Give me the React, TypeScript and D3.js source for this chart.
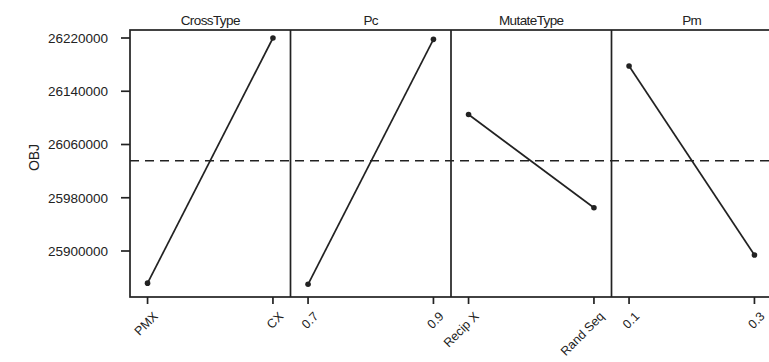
import React from "react";
import * as d3 from "d3";

const factors = ["CrossType", "Pc", "MutateType", "Pm"];
const levels: string[][] = [
  ["PMX", "CX"],
  ["0.7", "0.9"],
  ["Recip X", "Rand Seq"],
  ["0.1", "0.3"],
];
const means: number[][] = [
  [25851700, 26220000],
  [25850000, 26218000],
  [26105000, 25965000],
  [26178000, 25894000],
];
const yTicks = [25900000, 25980000, 26060000, 26140000, 26220000];
const grandMean = 26035500;

const W = 769;
const H = 362;
const left = 130;
const top = 30;
const bottom = 297;
const right = 772;

export default function App() {
  const y = d3.scaleLinear().domain([25900000, 26220000]).range([251, 38]);
  const panel = d3.scaleBand<string>().domain(factors).range([left, right]).padding(0);
  const bw = panel.bandwidth();
  const font = "'Liberation Sans', Arial, sans-serif";

  return (
    <svg width={W} height={H} style={{ position: "absolute", left: 0, top: 0, background: "#fff" }}>
      {/* frame */}
      <rect x={left} y={top} width={right - left} height={bottom - top} fill="none" stroke="#222" strokeWidth={1.7} />
      {factors.slice(1).map((f) => (
        <line key={f} x1={panel(f)} x2={panel(f)} y1={top} y2={bottom} stroke="#222" strokeWidth={1.7} />
      ))}
      {/* y axis */}
      {yTicks.map((t) => (
        <g key={t}>
          <line x1={left - 9} x2={left} y1={y(t)} y2={y(t)} stroke="#222" strokeWidth={1.7} />
          <text x={left - 22} y={y(t)} dy="0.36em" textAnchor="end" fontFamily={font} fontSize={13.5} fill="#222">
            {t}
          </text>
        </g>
      ))}
      <text
        transform={`translate(39,${(top + bottom) / 2 - 6}) rotate(-90)`}
        textAnchor="middle"
        fontFamily={font}
        fontSize={14}
        fill="#222"
      >
        OBJ
      </text>
      {/* grand mean */}
      <line
        x1={left}
        x2={W}
        y1={y(grandMean)}
        y2={y(grandMean)}
        stroke="#222"
        strokeWidth={1.4}
        strokeDasharray="9,6"
      />
      {factors.map((f, i) => {
        const px0 = panel(f) as number;
        const xs = d3.scalePoint<string>().domain(levels[i]).range([px0, px0 + bw]).padding(0.14);
        const pts: [number, number][] = levels[i].map((l, j) => [xs(l) as number, y(means[i][j])]);
        const line = d3.line();
        return (
          <g key={f}>
            <text
              x={px0 + bw / 2}
              y={top - 5}
              textAnchor="middle"
              fontFamily={font}
              fontSize={13.5}
              letterSpacing={-0.6}
              fill="#222"
            >
              {f}
            </text>
            <path d={line(pts) || ""} fill="none" stroke="#222" strokeWidth={1.7} />
            {pts.map((p, j) => (
              <circle key={j} cx={p[0]} cy={p[1]} r={2.8} fill="#222" />
            ))}
            {levels[i].map((l) => {
              const xx = xs(l) as number;
              return (
                <g key={l}>
                  <line x1={xx} x2={xx} y1={bottom} y2={bottom + 7} stroke="#222" strokeWidth={1.7} />
                  <text
                    transform={`translate(${xx + 8},${bottom + 17}) rotate(-45)`}
                    textAnchor="end"
                    dy="0.35em"
                    fontFamily={font}
                    fontSize={12.5}
                    fill="#222"
                  >
                    {l}
                  </text>
                </g>
              );
            })}
          </g>
        );
      })}
    </svg>
  );
}
